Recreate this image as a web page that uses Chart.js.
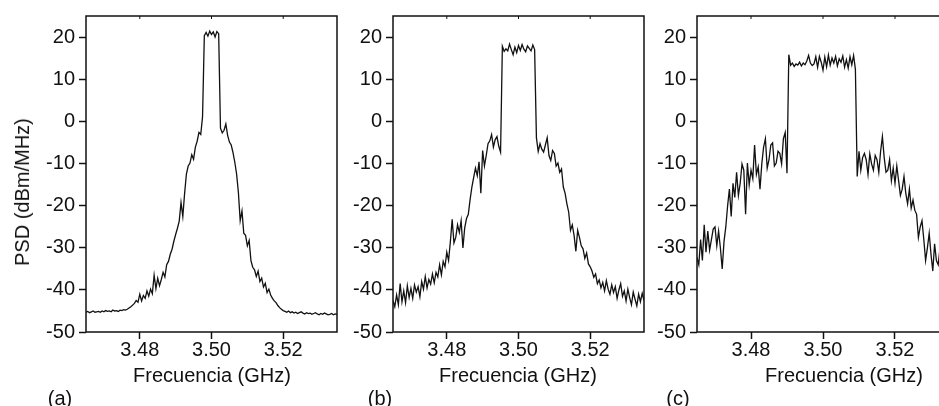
<!DOCTYPE html>
<html>
<head>
<meta charset="utf-8">
<script src="https://cdn.jsdelivr.net/npm/chart.js@4.4.1/dist/chart.umd.min.js"></script>
<style>
    html, body { margin: 0; padding: 0; background: #fff; overflow: hidden; }
    #wrap { position: relative; width: 939px; height: 406px; overflow: hidden; }
    canvas { position: absolute; top: 0; }
    .lbl {
        position: absolute; font-family: 'Liberation Sans', Arial, sans-serif;
        font-size: 20px; line-height: 1; color: #111; white-space: nowrap;
        transform: translate(-50%, -50%);
    }
    .ytitle { transform: translate(-50%, -50%) rotate(-90deg); }
</style>
</head>
<body>
<div id="wrap">
    <canvas id="chartA" width="345" height="406" style="left:0px"></canvas>
    <canvas id="chartB" width="307" height="406" style="left:345px"></canvas>
    <canvas id="chartC" width="305" height="406" style="left:652px"></canvas>

    <div class="lbl ytitle" style="left:22px; top:192px">PSD (dBm/MHz)</div>
    <div class="lbl" style="left:212px; top:375px">Frecuencia (GHz)</div>
    <div class="lbl" style="left:518px; top:375px">Frecuencia (GHz)</div>
    <div class="lbl" style="left:844px; top:375px">Frecuencia (GHz)</div>
    <div class="lbl" style="left:60px; top:398px">(a)</div>
    <div class="lbl" style="left:380px; top:398px">(b)</div>
    <div class="lbl" style="left:678px; top:398px">(c)</div>
</div>

<script>
// ── DATA ──
const xTicks = [3.48, 3.50, 3.52];
const yTicks = [-50, -40, -30, -20, -10, 0, 10, 20];

// frequency grid (GHz), shared by the three spectra
const freq = [
    3.4650, 3.4655, 3.4660, 3.4665, 3.4670, 3.4675, 3.4680, 3.4685, 3.4690, 3.4695,
    3.4700, 3.4705, 3.4710, 3.4715, 3.4720, 3.4725, 3.4730, 3.4735, 3.4740, 3.4745,
    3.4750, 3.4755, 3.4760, 3.4765, 3.4770, 3.4775, 3.4780, 3.4785, 3.4790, 3.4795,
    3.4800, 3.4805, 3.4810, 3.4815, 3.4820, 3.4825, 3.4830, 3.4835, 3.4840, 3.4845,
    3.4850, 3.4855, 3.4860, 3.4865, 3.4870, 3.4875, 3.4880, 3.4885, 3.4890, 3.4895,
    3.4900, 3.4905, 3.4910, 3.4915, 3.4920, 3.4925, 3.4930, 3.4935, 3.4940, 3.4945,
    3.4950, 3.4955, 3.4960, 3.4965, 3.4970, 3.4975, 3.4980, 3.4985, 3.4990, 3.4995,
    3.5000, 3.5005, 3.5010, 3.5015, 3.5020, 3.5025, 3.5030, 3.5035, 3.5040, 3.5045,
    3.5050, 3.5055, 3.5060, 3.5065, 3.5070, 3.5075, 3.5080, 3.5085, 3.5090, 3.5095,
    3.5100, 3.5105, 3.5110, 3.5115, 3.5120, 3.5125, 3.5130, 3.5135, 3.5140, 3.5145,
    3.5150, 3.5155, 3.5160, 3.5165, 3.5170, 3.5175, 3.5180, 3.5185, 3.5190, 3.5195,
    3.5200, 3.5205, 3.5210, 3.5215, 3.5220, 3.5225, 3.5230, 3.5235, 3.5240, 3.5245,
    3.5250, 3.5255, 3.5260, 3.5265, 3.5270, 3.5275, 3.5280, 3.5285, 3.5290, 3.5295,
    3.5300, 3.5305, 3.5310, 3.5315, 3.5320, 3.5325, 3.5330, 3.5335, 3.5340, 3.5345,
    3.5350
];

// (a) 5 MHz signal
const psdA = [
    -45.3, -45.1, -45.4, -45.2, -45.0, -45.3, -45.2, -45.1, -45.3, -45.0,
    -45.2, -44.9, -45.1, -45.0, -45.2, -44.8, -45.0, -44.9, -45.1, -44.8,
    -44.9, -44.7, -44.8, -44.6, -44.3, -44.0, -43.6, -43.2, -42.5, -42.9,
    -41.0, -42.6, -41.3, -42.0, -40.2, -41.5, -39.8, -40.9, -36.5, -39.7,
    -37.2, -39.0, -37.5, -35.8, -36.9, -34.0, -33.2, -31.5, -30.3, -28.4,
    -26.8, -25.3, -23.6, -19.2, -22.5, -17.0, -12.4, -10.5, -9.8, -7.8,
    -8.9, -6.0, -4.6, -2.5, -3.0, 1.2, 20.5, 21.3, 20.4, 21.6,
    20.8, 21.4, 20.2, 21.5, 21.0, -1.5, -2.6, -2.0, -0.5, -3.2,
    -4.8, -5.5, -7.3, -9.6, -12.4, -16.8, -23.5, -21.2, -26.5, -27.0,
    -29.5, -28.2, -33.0, -34.6, -35.2, -36.8, -35.5, -38.0, -37.2, -39.3,
    -38.4, -40.6, -39.8, -41.2, -42.0, -42.6, -43.0, -43.7, -44.2, -44.6,
    -44.9, -45.1, -45.3, -45.0, -45.4, -45.2, -45.5, -45.3, -45.6, -45.4,
    -45.2, -45.5, -45.7, -45.4, -45.6, -45.5, -45.8, -45.6, -45.4, -45.7,
    -45.9, -45.6, -45.8, -45.5, -45.7, -45.9, -45.8, -45.6, -45.9, -45.7,
    -45.8
];

// (b) 10 MHz signal
const psdB = [
    -42.5, -44.0, -41.2, -43.5, -38.5, -42.8, -40.2, -43.0, -39.0, -41.8,
    -39.6, -42.0, -38.8, -40.5, -39.2, -41.6, -38.0, -39.8, -36.8, -39.5,
    -37.5, -38.6, -36.2, -38.3, -35.8, -36.9, -34.0, -36.4, -33.2, -34.5,
    -31.0, -33.0, -28.5, -23.2, -28.8, -27.5, -24.5, -26.3, -23.5, -30.0,
    -25.2, -23.0, -22.0, -18.5, -15.5, -13.2, -11.0, -12.8, -9.5, -17.0,
    -6.8, -10.5, -8.0, -5.2, -4.5, -3.0, -6.0, -4.2, -3.5, -5.8,
    -7.2, 18.0, 16.8, 17.4, 16.9, 18.5, 17.2, 16.0, 17.8, 16.5,
    18.2, 17.0, 18.4, 17.3, 16.7, 18.1, 17.5, 16.9, 18.3, 17.2,
    -3.8, -7.0, -5.2, -6.5, -7.2, -5.5, -3.8, -8.0, -9.2, -6.8,
    -7.5, -10.5, -9.8, -12.0, -11.2, -15.5, -17.0, -19.5, -21.5, -25.8,
    -24.5, -27.0, -30.8, -25.8, -27.5, -29.5, -30.2, -32.5, -31.2, -33.8,
    -34.5, -35.5, -37.0, -36.2, -38.5, -37.6, -39.5, -38.2, -40.2, -37.8,
    -39.8, -41.0, -38.8, -40.6, -39.2, -42.0, -40.0, -38.5, -41.5, -40.2,
    -42.6, -39.8, -41.8, -43.5, -40.5, -42.2, -43.8, -41.0, -42.8, -40.8,
    -42.5
];

// (c) 20 MHz signal
const psdC = [
    -32.3, -34.0, -28.0, -33.0, -24.5, -31.0, -26.0, -30.5, -28.0, -25.5,
    -25.0, -29.5, -26.0, -30.0, -35.0, -28.5, -25.0, -20.0, -16.0, -22.5,
    -14.6, -18.0, -12.0, -17.5, -14.6, -10.0, -11.5, -22.0, -9.8, -15.0,
    -11.5, -13.5, -5.5, -12.5, -10.7, -16.0, -10.0, -6.0, -4.0, -11.0,
    -9.0, -5.5, -5.0, -10.5, -9.8, -7.0, -7.5, -10.0, -4.0, -2.5,
    -12.2, 16.0, 13.5, 14.0, 13.2, 13.8, 13.5, 14.2, 13.3, 14.0,
    13.6, 14.5, 15.8, 14.0, 13.4, 13.8, 15.5, 13.0, 15.6, 14.2,
    12.3, 15.4, 13.1, 15.9, 13.5, 15.2, 14.0, 15.6, 13.3, 15.0,
    14.2, 15.7, 13.0, 14.8, 12.8, 15.5, 13.6, 15.8, 12.5, -13.0,
    -7.0, -11.5, -8.5, -7.5, -9.0, -12.5, -7.6, -10.0, -11.5, -8.0,
    -9.0, -12.0, -7.0, -3.5, -8.5, -12.0, -11.5, -9.0, -14.0, -11.0,
    -14.6, -10.5, -14.0, -17.5, -16.0, -13.0, -17.0, -19.5, -16.0, -20.5,
    -18.6, -21.0, -22.0, -27.5, -25.0, -23.5, -28.0, -33.0, -30.0, -26.5,
    -31.5, -35.5, -29.0, -33.0, -34.0, -30.0, -35.5, -32.0, -36.0, -33.5,
    -37.0
];

// ── STYLE ──
const FONT = { family: "'Liberation Sans', Arial, sans-serif", size: 20 };
const INK = '#111';

// box around the plot + small inward ticks on the top edge
const frameBox = {
    id: 'frameBox',
    afterDraw(chart) {
        const { ctx, chartArea: a, scales } = chart;
        ctx.save();
        ctx.strokeStyle = INK;
        ctx.lineWidth = 1.5;
        ctx.strokeRect(a.left, a.top, a.right - a.left, a.bottom - a.top);
        ctx.lineWidth = 1;
        xTicks.forEach(v => {
            const px = scales.x.getPixelForValue(v);
            ctx.beginPath();
            ctx.moveTo(px, a.top);
            ctx.lineTo(px, a.top + 3);
            ctx.stroke();
        });
        ctx.restore();
    }
};

function makePanel(id, psd, yWidth) {
    return new Chart(document.getElementById(id), {
        type: 'line',
        data: {
            labels: freq,
            datasets: [{
                data: freq.map((f, i) => ({ x: f, y: psd[i] })),
                borderColor: INK,
                borderWidth: 1.3,
                pointRadius: 0,
                tension: 0,
                fill: false
            }]
        },
        options: {
            responsive: false,
            animation: false,
            layout: { padding: { top: 13, right: 8, bottom: 0, left: 0 } },
            plugins: { legend: { display: false }, tooltip: { enabled: false } },
            scales: {
                x: {
                    type: 'linear', min: 3.465, max: 3.535,
                    afterBuildTicks: s => { s.ticks = xTicks.map(v => ({ value: v })); },
                    afterFit: s => { s.height = 74; },
                    ticks: { font: FONT, color: INK, padding: -1, maxRotation: 0,
                             callback: v => v.toFixed(2) },
                    grid: { drawOnChartArea: false, color: INK, tickLength: 7, tickWidth: 1.5 },
                    border: { display: false }
                },
                y: {
                    min: -50, max: 25.2,
                    afterBuildTicks: s => { s.ticks = yTicks.map(v => ({ value: v })); },
                    afterFit: s => { s.width = yWidth; },
                    ticks: { font: FONT, color: INK, padding: 4 },
                    grid: { drawOnChartArea: false, color: INK, tickLength: 7, tickWidth: 1.5 },
                    border: { display: false }
                }
            }
        },
        plugins: [frameBox]
    });
}

// ── MAIN ──
makePanel('chartA', psdA, 86);
makePanel('chartB', psdB, 48);
makePanel('chartC', psdC, 45);
</script>
</body>
</html>
